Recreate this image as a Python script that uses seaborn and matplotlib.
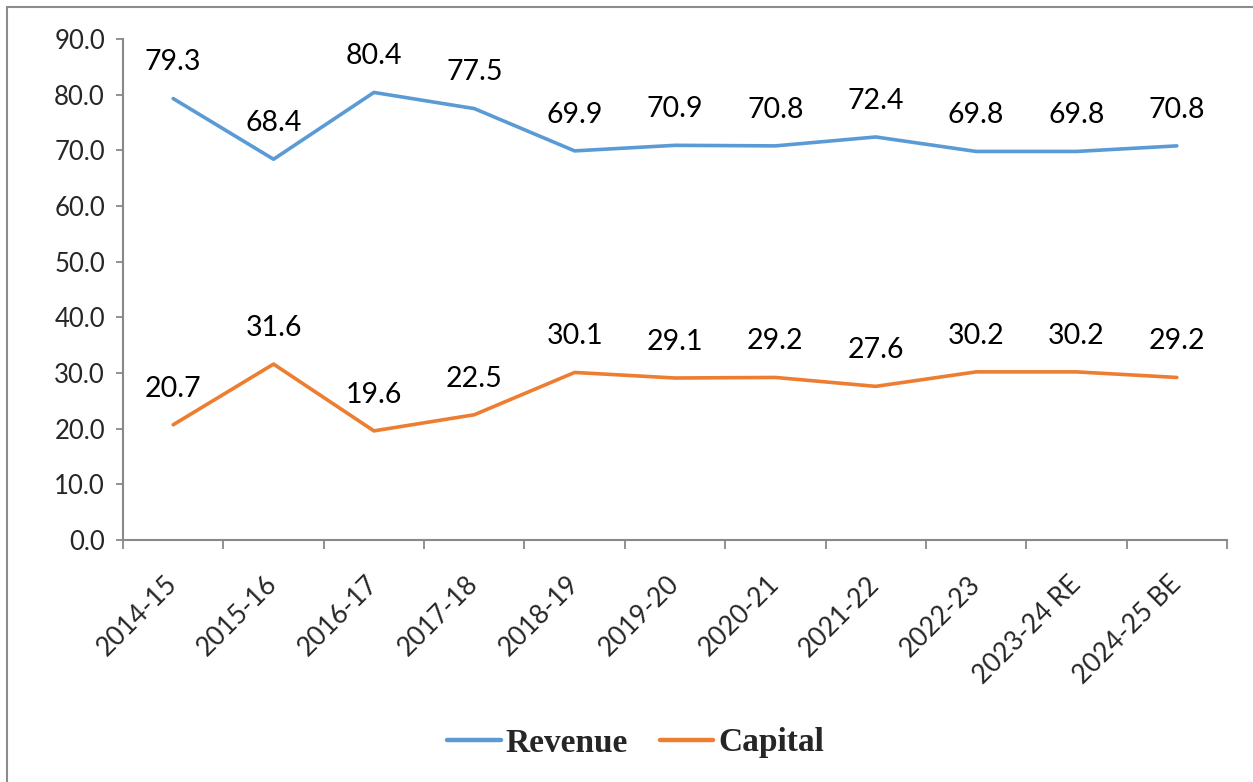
import numpy as np
import pandas as pd
import matplotlib
matplotlib.use("Agg")
import matplotlib.pyplot as plt
import seaborn as sns
from matplotlib.patches import Rectangle
from matplotlib.ticker import FixedLocator, FormatStrFormatter

years = ['2014-15', '2015-16', '2016-17', '2017-18', '2018-19', '2019-20',
         '2020-21', '2021-22', '2022-23', '2023-24 RE', '2024-25 BE']
revenue = [79.3, 68.4, 80.4, 77.5, 69.9, 70.9, 70.8, 72.4, 69.8, 69.8, 70.8]
capital = [20.7, 31.6, 19.6, 22.5, 30.1, 29.1, 29.2, 27.6, 30.2, 30.2, 29.2]

sns.set_style("white")
plt.rcParams['font.family'] = ['Lato', 'DejaVu Sans']

df = pd.DataFrame({
    'pos': list(range(len(years))) * 2,
    'value': revenue + capital,
    'series': ['Revenue'] * len(years) + ['Capital'] * len(years),
})

fig = plt.figure(figsize=(12.53, 7.82), dpi=100)
ax = fig.add_axes([123 / 1253, 1 - 540 / 782, (1227 - 123) / 1253, (540 - 39) / 782])

grey = '#898989'
sns.lineplot(data=df, x='pos', y='value', hue='series', sort=False,
             palette={'Revenue': '#5B9BD5', 'Capital': '#ED7D31'},
             linewidth=2.6, ax=ax, legend=True)

for vals in (revenue, capital):
    for i, v in enumerate(vals):
        ax.annotate(f"{v:.1f}", (i, v), xytext=(0, 26), textcoords='offset points',
                    ha='center', va='center', fontsize=20.5, color='black')

ax.set_xlim(-0.5, len(years) - 0.5)
ax.set_ylim(0, 90)
ax.set_yticks(np.arange(0, 91, 10))
ax.yaxis.set_major_formatter(FormatStrFormatter('%.1f'))
ax.set_xticks(range(len(years)))
ax.set_xticklabels(years, rotation=45, ha='right', rotation_mode='anchor', va='center')
ax.xaxis.set_minor_locator(FixedLocator(np.arange(-0.5, len(years), 1)))
ax.tick_params(bottom=True, left=True, which='both')
ax.tick_params(axis='x', which='major', length=0, pad=29, labelsize=19)
ax.tick_params(axis='x', which='minor', length=6.5, width=1.3, color=grey, direction='out')
ax.tick_params(axis='y', length=5, width=1.3, color=grey, direction='out', labelsize=18.5, pad=8)
ax.set_xlabel('')
ax.set_ylabel('')
for side in ('top', 'right'):
    ax.spines[side].set_visible(False)
for side in ('left', 'bottom'):
    ax.spines[side].set_color(grey)
    ax.spines[side].set_linewidth(1.5)

handles, labels = ax.get_legend_handles_labels()
ax.get_legend().remove()
leg = fig.legend(handles, labels, loc='center', bbox_to_anchor=(0.5 + 9 / 1253, 1 - 743 / 782),
                 ncol=2, frameon=False, handlelength=1.6, handletextpad=0.15,
                 columnspacing=0.95,
                 prop={'family': 'Liberation Serif', 'weight': 'bold', 'size': 24})
for line in leg.get_lines():
    line.set_linewidth(3.2)

fig.patches.append(Rectangle((7 / 1253, -0.05), 1.2, 1 - 7 / 782 + 0.05,
                             transform=fig.transFigure, fill=False,
                             edgecolor='#8c8c8c', linewidth=1.5))

fig.savefig('out.png', dpi=100)
